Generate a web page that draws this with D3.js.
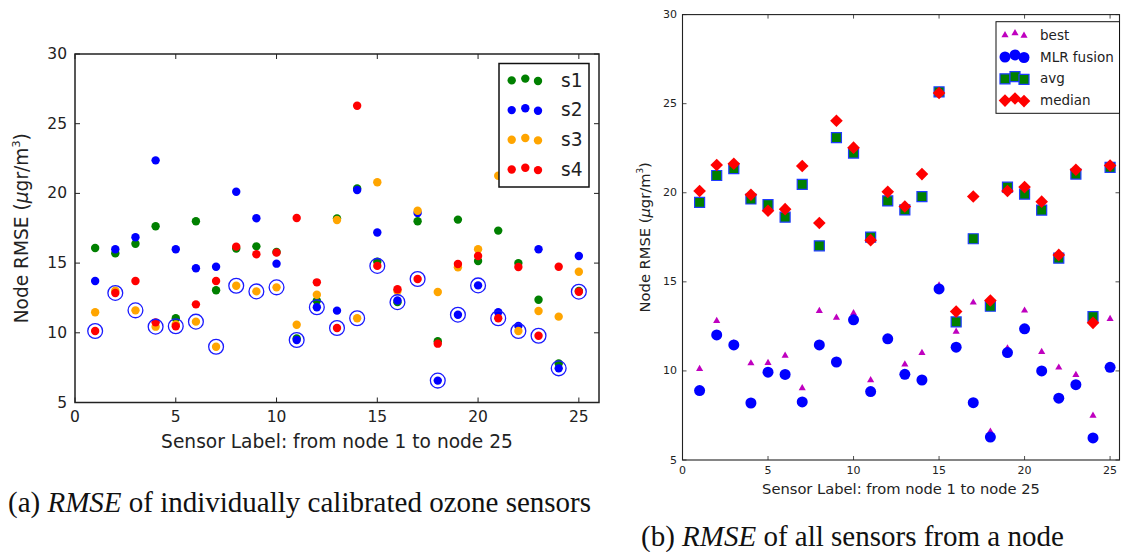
<!DOCTYPE html>
<html>
<head>
<meta charset="utf-8">
<script src="https://cdn.jsdelivr.net/npm/d3@7"></script>
<style>
  html, body { margin: 0; padding: 0; background: #fff; }
  svg { display: block; }
  text { font-family: "DejaVu Sans", sans-serif; fill: #222; }
  .caption { font-family: "Liberation Serif", "Times New Roman", serif; fill: #111; }
</style>
</head>
<body>
<svg id="fig" width="1121" height="552"></svg>
<script>
// ---------- data ----------
const nodes = [1,2,3,4,5,6,7,8,9,10,11,12,13,14,15,16,17,18,19,20,21,22,23,24,25];

// (a) RMSE of each individually calibrated sensor of every node
const s1 = [16.08,15.70,16.39,17.64,11.04,18.00,13.05,16.05,16.20,15.80,9.60,12.30,18.21,20.35,15.10,12.20,18.00,9.40,18.12,15.15,17.33,15.00,12.37,7.80,13.00];
const s2 = [13.72,15.99,16.85,22.37,15.99,14.63,14.74,20.12,18.22,14.96,9.48,11.83,11.59,20.24,17.20,12.32,18.60,6.57,11.30,13.40,11.47,10.49,15.99,7.45,15.51];
const s3 = [11.47,13.02,11.61,10.44,10.60,10.80,9.00,13.38,12.97,13.26,10.58,12.73,18.09,11.04,20.80,13.00,18.76,12.93,14.70,15.99,21.27,10.13,11.56,11.16,14.38];
const s4 = [10.13,12.86,13.72,10.75,10.47,12.04,13.72,16.18,15.63,15.75,18.24,13.62,10.34,26.29,14.80,13.12,13.86,9.22,14.94,15.51,11.04,14.72,9.79,14.74,12.95];
const sensorNames = ["s1","s2","s3","s4"];
const sensorColors = ["#008000","#0000ff","#ffa500","#ff0000"];

// (b) RMSE of combined estimates per node
const best   = [10.11,12.81,11.55,10.43,10.45,10.86,9.03,13.37,12.99,13.24,9.48,11.83,10.37,11.01,14.80,12.20,13.84,6.60,11.27,13.39,11.07,10.19,9.78,7.49,12.92];
const mlr    = [8.90,12.02,11.46,8.20,9.93,9.80,8.26,11.46,10.50,12.87,8.84,11.80,9.81,9.49,14.60,11.33,8.22,6.29,11.03,12.36,10.00,8.47,9.23,6.24,10.20];
const avg    = [19.46,20.97,21.35,19.65,19.33,18.63,20.47,17.02,23.10,22.23,17.51,19.54,19.04,19.78,25.66,12.75,17.42,13.63,20.32,19.92,19.03,16.33,21.05,13.05,21.42];
const median = [20.10,21.56,21.63,19.89,18.99,19.08,21.50,18.30,24.04,22.53,17.34,20.05,19.23,21.05,25.60,13.33,19.79,13.95,20.10,20.32,19.50,16.51,21.29,12.70,21.53];
const fusionNames = ["best","MLR fusion","avg","median"];

const xTicks = [0,5,10,15,20,25];
const yTicks = [5,10,15,20,25,30];
const yDomain = [5,30];
const xLabel = "Sensor Label: from node 1 to node 25";
const captionA = ["(a) ", "RMSE", " of individually calibrated ozone sensors"];
const captionB = ["(b) ", "RMSE", " of all sensors from a node"];

// ---------- helpers ----------
const svg = d3.select("#fig");

function drawFrame(g, x, y, opt) {
  const [x0, x1] = x.range();
  const [y0, y1] = y.range(); // y0 bottom, y1 top
  const tl = opt.tickLen;
  // ticks on all four sides, pointing inward
  const tk = g.append("g").attr("stroke", "#222").attr("stroke-width", opt.tickW);
  xTicks.forEach(v => {
    const px = x(v);
    tk.append("line").attr("x1", px).attr("x2", px).attr("y1", y0).attr("y2", y0 - tl);
    tk.append("line").attr("x1", px).attr("x2", px).attr("y1", y1).attr("y2", y1 + tl);
  });
  yTicks.forEach(v => {
    const py = y(v);
    tk.append("line").attr("x1", x0).attr("x2", x0 + tl).attr("y1", py).attr("y2", py);
    tk.append("line").attr("x1", x1).attr("x2", x1 - tl).attr("y1", py).attr("y2", py);
  });
  g.append("rect")
    .attr("x", x0).attr("y", y1).attr("width", x1 - x0).attr("height", y0 - y1)
    .attr("fill", "none").attr("stroke", "#222").attr("stroke-width", opt.frameW);

  // tick labels
  g.append("g").selectAll("text").data(xTicks).join("text")
    .attr("x", d => x(d)).attr("y", y0 + opt.xTickOff)
    .attr("text-anchor", "middle").attr("dominant-baseline", "central")
    .style("font-size", opt.tickFont + "px").text(d => d);
  g.append("g").selectAll("text").data(yTicks).join("text")
    .attr("x", x0 - opt.yTickPad).attr("y", d => y(d))
    .attr("text-anchor", "end").attr("dominant-baseline", "central")
    .style("font-size", opt.tickFont + "px").text(d => d);

  // axis titles
  g.append("text")
    .attr("x", (x0 + x1) / 2).attr("y", opt.xLabelY)
    .attr("text-anchor", "middle").style("font-size", opt.labelFont + "px")
    .text(xLabel);
  const yl = g.append("text")
    .attr("transform", `translate(${opt.yLabelX},${(y0 + y1) / 2}) rotate(-90)`)
    .attr("text-anchor", "middle").style("font-size", opt.labelFont + "px");
  yl.append("tspan").text("Node RMSE (");
  yl.append("tspan").style("font-style", "italic").text("\u03bc");
  yl.append("tspan").text("gr/m");
  yl.append("tspan").attr("dy", -0.45 * opt.labelFont).style("font-size", (opt.labelFont * 0.6) + "px").text("3");
  yl.append("tspan").attr("dy", 0.45 * opt.labelFont).text(")");
}

// ---------- panel (a) ----------
{
  const x = d3.scaleLinear().domain([0, 26]).range([75, 599]);
  const y = d3.scaleLinear().domain(yDomain).range([402.5, 54]);
  const g = svg.append("g");

  const series = [s1, s2, s3, s4];
  series.forEach((vals, i) => {
    g.append("g").selectAll("circle").data(nodes).join("circle")
      .attr("cx", (n) => x(n)).attr("cy", (n, j) => y(vals[j]))
      .attr("r", 4.2).attr("fill", sensorColors[i]);
  });
  // ring around the lowest-error sensor of each node
  g.append("g").selectAll("circle").data(nodes).join("circle")
    .attr("cx", n => x(n))
    .attr("cy", (n, j) => y(Math.min(s1[j], s2[j], s3[j], s4[j])))
    .attr("r", 7.4).attr("fill", "none").attr("stroke", "#1a1aff").attr("stroke-width", 1.3);

  drawFrame(g, x, y, {
    tickLen: 5, tickW: 1, frameW: 1.5, tickFont: 15.5, xTickOff: 14, yTickPad: 8,
    labelFont: 18.6, xLabelY: 448, yLabelX: 28
  });

  // legend
  const lg = g.append("g");
  lg.append("rect").attr("x", 499).attr("y", 63.5).attr("width", 90).attr("height", 123.5)
    .attr("fill", "#fff").attr("stroke", "#111").attr("stroke-width", 1.5);
  const mx = [511.7, 525.3, 538], my = [0.4, -1.4, 1.0];
  sensorNames.forEach((name, i) => {
    const cy = 80 + i * 29.7;
    mx.forEach((px, k) => {
      lg.append("circle").attr("cx", px).attr("cy", cy + my[k]).attr("r", 4.2).attr("fill", sensorColors[i]);
    });
    lg.append("text").attr("x", 561).attr("y", cy).attr("dominant-baseline", "central")
      .style("font-size", "18.6px").text(name);
  });
}

// ---------- panel (b) ----------
{
  const x = d3.scaleLinear().domain([0, 25.55]).range([682.5, 1119.5]);
  const y = d3.scaleLinear().domain(yDomain).range([460, 14.6]);
  const g = svg.append("g");

  const tri = d3.symbol().type(d3.symbolTriangle).size(22)();
  const sq = d3.symbol().type(d3.symbolSquare).size(100)();
  const dia = d3.symbol().type(d3.symbolSquare).size(80)();

  function drawBest(sel, px, py) {
    sel.append("path").attr("d", tri).attr("transform", `translate(${px},${py})`).attr("fill", "#bf00bf");
  }
  function drawMlr(sel, px, py) {
    sel.append("circle").attr("cx", px).attr("cy", py).attr("r", 5.5).attr("fill", "#0000ff");
  }
  function drawAvg(sel, px, py) {
    sel.append("path").attr("d", sq).attr("transform", `translate(${px},${py})`)
      .attr("fill", "#008000").attr("stroke", "#1f3cff").attr("stroke-width", 1.2);
  }
  function drawMedian(sel, px, py) {
    sel.append("path").attr("d", dia).attr("transform", `translate(${px},${py}) rotate(45)`).attr("fill", "#ff0000");
  }
  const drawers = [drawBest, drawMlr, drawAvg, drawMedian];
  const seriesB = [best, mlr, avg, median];

  seriesB.forEach((vals, i) => {
    const layer = g.append("g");
    nodes.forEach((n, j) => drawers[i](layer, x(n), y(vals[j])));
  });

  drawFrame(g, x, y, {
    tickLen: 4, tickW: 0.8, frameW: 1.1, tickFont: 11, xTickOff: 10.5, yTickPad: 5.5,
    labelFont: 14.7, xLabelY: 493.5, yLabelX: 649.5
  });

  // legend
  const lg = g.append("g");
  lg.append("rect").attr("x", 996).attr("y", 21.7).attr("width", 123.5).attr("height", 91.6)
    .attr("fill", "#fff").attr("stroke", "#111").attr("stroke-width", 1);
  const mx = [1005, 1015, 1024], my = [0.5, -1.6, 1.0];
  fusionNames.forEach((name, i) => {
    const cy = 34.7 + i * 21.8;
    mx.forEach((px, k) => drawers[i](lg, px, cy + my[k]));
    lg.append("text").attr("x", 1040).attr("y", cy).attr("dominant-baseline", "central")
      .style("font-size", "13.5px").text(name);
  });
}

// ---------- captions ----------
function caption(parts, x, yBase) {
  const t = svg.append("text").attr("class", "caption").attr("x", x).attr("y", yBase)
    .style("font-size", "29px");
  t.append("tspan").text(parts[0]);
  t.append("tspan").style("font-style", "italic").text(parts[1]);
  t.append("tspan").text(parts[2]);
}
caption(captionA, 8, 512);
caption(captionB, 641, 546);
</script>
</body>
</html>
